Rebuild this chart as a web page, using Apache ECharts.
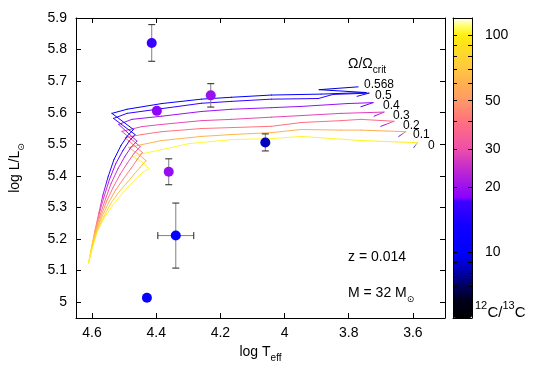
<!DOCTYPE html>
<html>
<head>
<meta charset="utf-8">
<script src="https://cdn.jsdelivr.net/npm/echarts@6/dist/echarts.min.js"></script>
<style>html,body{margin:0;padding:0;background:#fff}#chart{width:545px;height:382px}</style>
</head>
<body>
<div id="chart"></div>
<script>
// 32 Msun tracks at z = 0.014, points are [log Teff, log L, 12C/13C]
const omegaLabels = ['0', '0.1', '0.2', '0.3', '0.4', '0.5', '0.568'];

const track0 = [[4.611,5.123,105],[4.597,5.181,105],[4.582,5.228,105],[4.560,5.270,105],[4.535,5.308,105],[4.507,5.343,105],[4.479,5.375,105],[4.454,5.400,105],[4.439,5.413,105],[4.423,5.423,105],[4.445,5.445,105],[4.473,5.461,105],[4.445,5.470,105],[4.383,5.483,105],[4.299,5.502,105],[4.165,5.515,105],[4.041,5.518,105],[3.948,5.525,104],[3.762,5.512,102],[3.586,5.505,95],[3.597,5.490,17]];
const track1 = [[4.611,5.123,105],[4.597,5.181,100],[4.583,5.228,88],[4.564,5.270,80],[4.541,5.314,74],[4.516,5.349,70],[4.491,5.378,66],[4.470,5.404,64],[4.451,5.426,63],[4.432,5.448,62],[4.457,5.470,62],[4.486,5.490,62],[4.445,5.499,62],[4.383,5.512,62],[4.259,5.525,62],[4.165,5.531,62],[4.041,5.537,62],[3.948,5.547,61],[3.824,5.545,60],[3.762,5.545,60],[3.622,5.540,56],[3.644,5.525,17]];
const track2 = [[4.611,5.123,105],[4.599,5.181,95],[4.585,5.228,80],[4.568,5.273,66],[4.547,5.318,56],[4.526,5.356,50],[4.504,5.388,45],[4.479,5.423,42],[4.460,5.451,41],[4.443,5.474,40],[4.497,5.521,40],[4.445,5.531,40],[4.383,5.540,40],[4.259,5.550,40],[4.165,5.553,40],[4.041,5.557,40],[3.948,5.569,39],[3.824,5.575,39],[3.762,5.579,38],[3.659,5.573,37],[3.700,5.557,18]];
const track3 = [[4.611,5.123,105],[4.599,5.181,92],[4.586,5.228,72],[4.571,5.276,55],[4.554,5.321,44],[4.535,5.362,38],[4.513,5.404,34],[4.491,5.439,31],[4.470,5.470,30],[4.450,5.493,29],[4.507,5.541,29],[4.445,5.556,29],[4.383,5.563,29],[4.259,5.575,29],[4.165,5.579,29],[4.041,5.586,29],[3.948,5.591,28],[3.824,5.598,28],[3.690,5.602,27],[3.721,5.589,18]];
const track4 = [[4.611,5.123,105],[4.600,5.181,88],[4.588,5.228,65],[4.574,5.279,45],[4.558,5.327,34],[4.541,5.375,28],[4.519,5.423,24],[4.498,5.461,22],[4.479,5.490,21],[4.460,5.510,20.5],[4.517,5.563,20],[4.476,5.579,20],[4.383,5.589,20],[4.259,5.604,20],[4.165,5.611,20],[4.041,5.616,20],[3.948,5.620,20],[3.805,5.629,19.5],[3.724,5.632,19],[3.762,5.619,17]];
const track5 = [[4.611,5.123,105],[4.600,5.181,85],[4.589,5.228,58],[4.577,5.282,38],[4.563,5.333,27],[4.546,5.388,21],[4.526,5.439,18.5],[4.504,5.480,17],[4.485,5.509,16.5],[4.466,5.531,16],[4.533,5.582,16],[4.491,5.598,16],[4.383,5.613,16],[4.259,5.630,16],[4.165,5.636,16],[4.041,5.643,16],[3.895,5.645,15.5],[3.849,5.658,15],[3.737,5.662,15],[3.774,5.652,14]];
const track6 = [[4.611,5.123,105],[4.600,5.181,80],[4.591,5.228,50],[4.578,5.286,30],[4.566,5.340,21],[4.550,5.397,16],[4.532,5.451,13],[4.510,5.496,11],[4.491,5.525,10.5],[4.471,5.547,10],[4.538,5.598,10],[4.491,5.611,10],[4.383,5.629,10],[4.259,5.643,10],[4.165,5.649,10],[4.041,5.656,10],[3.886,5.659,10],[3.746,5.664,9.5],[3.892,5.673,9],[3.771,5.682,9]];
const tracks = [track0, track1, track2, track3, track4, track5, track6];

// observed stars
const starTeff = [4.414, 4.398, 4.230, 4.060, 4.361, 4.339, 4.429];
const starLum = [5.821, 5.606, 5.655, 5.506, 5.413, 5.211, 5.014];
const starTeffErr = [0, 0, 0, 0, 0, 0.056, 0];
const starLumErr = [0.058, 0, 0.037, 0.027, 0.041, 0.103, 0];
const starRatio = [16.5, 18.5, 20, 8.5, 19.5, 10.5, 11];

const tempTicks = [4.6, 4.4, 4.2, 4.0, 3.8, 3.6];
const lumTicks = [5.0, 5.1, 5.2, 5.3, 5.4, 5.5, 5.6, 5.7, 5.8, 5.9];
const ratioLabels = [10, 20, 30, 50, 100];
const ratioTicks = [6, 7, 8, 9, 10, 20, 30, 40, 50, 60, 70, 80, 90, 100];

const font = '"Liberation Sans", Arial, sans-serif';

// palette, stops in log10(12C/13C)
const stops = [
	[0.699, '#000000'], [0.78, '#00001a'], [0.85, '#000066'], [0.93, '#0000c0'],
	[1.0, '#0000ff'], [1.12, '#1000ff'], [1.245, '#4400ff'], [1.25, '#8800ff'],
	[1.30, '#9a10f0'], [1.40, '#c830c8'], [1.48, '#f050a8'], [1.60, '#ff7080'],
	[1.70, '#ff9966'], [1.78, '#ffb050'], [1.85, '#ffc840'], [1.95, '#ffe020'],
	[2.0, '#ffee10'], [2.04, '#ffff60'], [2.08, '#ffffff'],
];
function hex(c) { return [1, 3, 5].map(i => parseInt(c.substr(i, 2), 16)); }
function ratioColor(v) {
	const x = Math.log10(v);
	if (x <= stops[0][0]) return stops[0][1];
	for (let i = 1; i < stops.length; i++) {
		if (x <= stops[i][0]) {
			const f = (x - stops[i - 1][0]) / (stops[i][0] - stops[i - 1][0]);
			const a = hex(stops[i - 1][1]), b = hex(stops[i][1]);
			return 'rgb(' + a.map((q, k) => Math.round(q + (b[k] - q) * f)).join(',') + ')';
		}
	}
	return stops[stops.length - 1][1];
}
const logMin = Math.log10(5), logMax = Math.log10(120);
const vmColors = [];
for (let i = 0; i <= 200; i++) vmColors.push(ratioColor(Math.pow(10, logMin + (logMax - logMin) * i / 200)));

const segs = [];
tracks.forEach((trk, k) => {
	for (let i = 0; i < trk.length - 1; i++) {
		segs.push([trk[i][0], trk[i][1], trk[i][2], trk[i + 1][0], trk[i + 1][1], trk[i + 1][2], k]);
	}
});

var myChart = echarts.init(document.getElementById('chart'));

function mainX(pos, labels) {
	return {
		type: 'value', gridIndex: 0, position: pos, inverse: true, min: 3.5, max: 4.65,
		splitLine: { show: false },
		axisLine: { show: true, onZero: false, lineStyle: { color: '#000', width: 1 } },
		axisTick: { show: true, inside: true, length: 5, customValues: tempTicks, lineStyle: { color: '#000' } },
		axisLabel: { show: labels, customValues: tempTicks, margin: 8, color: '#000', fontSize: 14, fontFamily: font },
		z: 10,
	};
}
function mainY(pos, labels) {
	return {
		type: 'value', gridIndex: 0, position: pos, min: 4.95, max: 5.9,
		splitLine: { show: false },
		axisLine: { show: true, onZero: false, lineStyle: { color: '#000', width: 1 } },
		axisTick: { show: true, inside: true, length: 5, customValues: lumTicks, lineStyle: { color: '#000' } },
		axisLabel: { show: labels, customValues: lumTicks, margin: 9, color: '#000', fontSize: 14, fontFamily: font },
		z: 10,
	};
}
function barY(pos, labels) {
	return {
		type: 'log', gridIndex: 1, position: pos, min: 5, max: 120,
		splitLine: { show: false },
		axisLine: { show: true, onZero: false, lineStyle: { color: '#000', width: 1 } },
		axisTick: { show: true, inside: true, length: 4, customValues: ratioTicks, lineStyle: { color: '#000' } },
		axisLabel: { show: labels, customValues: ratioLabels, margin: 13, color: '#000', fontSize: 14, fontFamily: font,
			formatter: v => String(Math.round(v)) },
		z: 10,
	};
}
function barX(pos) {
	return {
		type: 'value', gridIndex: 1, position: pos, min: 0, max: 1,
		splitLine: { show: false },
		axisLine: { show: true, onZero: false, lineStyle: { color: '#000', width: 1 } },
		axisTick: { show: false }, axisLabel: { show: false },
		z: 10,
	};
}

const f14 = '14px ' + font, f10 = '10px ' + font;
function txt(x, y, text, f) {
	return { type: 'text', x: x, y: y, style: { text: text, font: f, fill: '#000', align: 'left', verticalAlign: 'middle' } };
}
const labelPos = [[428, 146], [413, 134.5], [403, 125.5], [393, 116], [383, 106], [375, 96], [364, 85]];
const graphics = omegaLabels.map((t, i) => txt(labelPos[i][0], labelPos[i][1], t, '12px ' + font));
graphics.push({
	type: 'text', x: 348, y: 66,
	style: { text: '{a|Ω/Ω}{b|crit}', fill: '#000', align: 'left', verticalAlign: 'middle',
		rich: { a: { font: f14, lineHeight: 18, verticalAlign: 'top' },
			b: { font: f10, lineHeight: 10, verticalAlign: 'bottom' } } },
});
graphics.push(txt(348, 256.7, 'z = 0.014', f14));
graphics.push({
	type: 'text', x: 348, y: 295,
	style: { text: '{a|M = 32 M}{b|⊙}', fill: '#000', align: 'left', verticalAlign: 'middle',
		rich: { a: { font: f14, lineHeight: 18, verticalAlign: 'top' },
			b: { font: '9px "DejaVu Sans"', lineHeight: 10, verticalAlign: 'bottom' } } },
});
// 12C/13C colorbar title
const f11 = '11px ' + font, f15 = '15px ' + font;
graphics.push(txt(475, 306, '12', f11), txt(487.5, 313, 'C/', f15), txt(502.5, 306, '13', f11), txt(514.8, 313, 'C', f15));

option = {
	animation: false,
	backgroundColor: '#fff',
	grid: [
		{ left: 73, top: 18, width: 372, height: 300 },
		{ left: 453, top: 18, width: 19, height: 300 },
	],
	xAxis: [
		Object.assign(mainX('bottom', true), {
			name: '{m|log T}{s|eff}', nameLocation: 'middle', nameGap: 21,
			nameTextStyle: { color: '#000', rich: {
				m: { fontSize: 14, fontFamily: font, lineHeight: 18, verticalAlign: 'top', color: '#000' },
				s: { fontSize: 10, fontFamily: font, lineHeight: 10, verticalAlign: 'bottom', color: '#000' } } },
		}),
		mainX('top', false),
		barX('bottom'),
		barX('top'),
	],
	yAxis: [
		Object.assign(mainY('left', true), {
			name: '{m|log L/L}{s|⊙}', nameLocation: 'middle', nameGap: 50, nameRotate: 90,
			nameTextStyle: { color: '#000', rich: {
				m: { fontSize: 14, fontFamily: font, lineHeight: 18, verticalAlign: 'top', color: '#000' },
				s: { fontSize: 9, fontFamily: 'DejaVu Sans', lineHeight: 10, verticalAlign: 'bottom', color: '#000' } } },
		}),
		mainY('right', false),
		barY('left', false),
		barY('right', true),
	],
	visualMap: {
		type: 'continuous', seriesIndex: 2, dimension: 2,
		min: logMin, max: logMax, inRange: { color: vmColors },
		left: 453, top: 18, itemWidth: 19, itemHeight: 300, padding: 0,
		calculable: false, text: null, z: 2,
	},
	graphic: graphics,
	series: [
		{
			type: 'custom', xAxisIndex: 0, yAxisIndex: 0, clip: true, z: 2,
			encode: { x: [0, 3], y: [1, 4] },
			data: segs,
			renderItem: (params, api) => {
				const a = api.coord([api.value(0), api.value(1)]);
				const b = api.coord([api.value(3), api.value(4)]);
				return {
					type: 'line', shape: { x1: a[0], y1: a[1], x2: b[0], y2: b[1] },
					style: {
						stroke: new echarts.graphic.LinearGradient(a[0], a[1], b[0], b[1], [
							{ offset: 0, color: ratioColor(api.value(2)) },
							{ offset: 1, color: ratioColor(api.value(5)) },
						], true),
						lineWidth: 1, lineCap: 'round',
					},
				};
			},
		},
		{
			type: 'custom', xAxisIndex: 0, yAxisIndex: 0, z: 4,
			encode: { x: 0, y: 1 },
			data: starTeff.map((t, i) => [t, starLum[i], starTeffErr[i], starLumErr[i]]),
			renderItem: (params, api) => {
				const t = api.value(0), l = api.value(1), xe = api.value(2), ye = api.value(3);
				const kids = [], cap = 3.5;
				const stem = { stroke: '#808080', lineWidth: 1 }, capS = { stroke: '#222', lineWidth: 1 };
				if (ye > 0) {
					const a = api.coord([t, l + ye]), b = api.coord([t, l - ye]);
					kids.push({ type: 'line', shape: { x1: a[0], y1: a[1], x2: b[0], y2: b[1] }, style: stem });
					kids.push({ type: 'line', shape: { x1: a[0] - cap, y1: a[1], x2: a[0] + cap, y2: a[1] }, style: capS });
					kids.push({ type: 'line', shape: { x1: b[0] - cap, y1: b[1], x2: b[0] + cap, y2: b[1] }, style: capS });
				}
				if (xe > 0) {
					const a = api.coord([t + xe, l]), b = api.coord([t - xe, l]);
					kids.push({ type: 'line', shape: { x1: a[0], y1: a[1], x2: b[0], y2: b[1] }, style: stem });
					kids.push({ type: 'line', shape: { x1: a[0], y1: a[1] - cap, x2: a[0], y2: a[1] + cap }, style: capS });
					kids.push({ type: 'line', shape: { x1: b[0], y1: b[1] - cap, x2: b[0], y2: b[1] + cap }, style: capS });
				}
				return { type: 'group', children: kids };
			},
		},
		{
			type: 'scatter', xAxisIndex: 0, yAxisIndex: 0, z: 5,
			symbolSize: 10, itemStyle: { opacity: 1 },
			data: starTeff.map((t, i) => [t, starLum[i], Math.log10(starRatio[i])]),
		},
	],
};

myChart.setOption(option);
</script>
</body>
</html>
